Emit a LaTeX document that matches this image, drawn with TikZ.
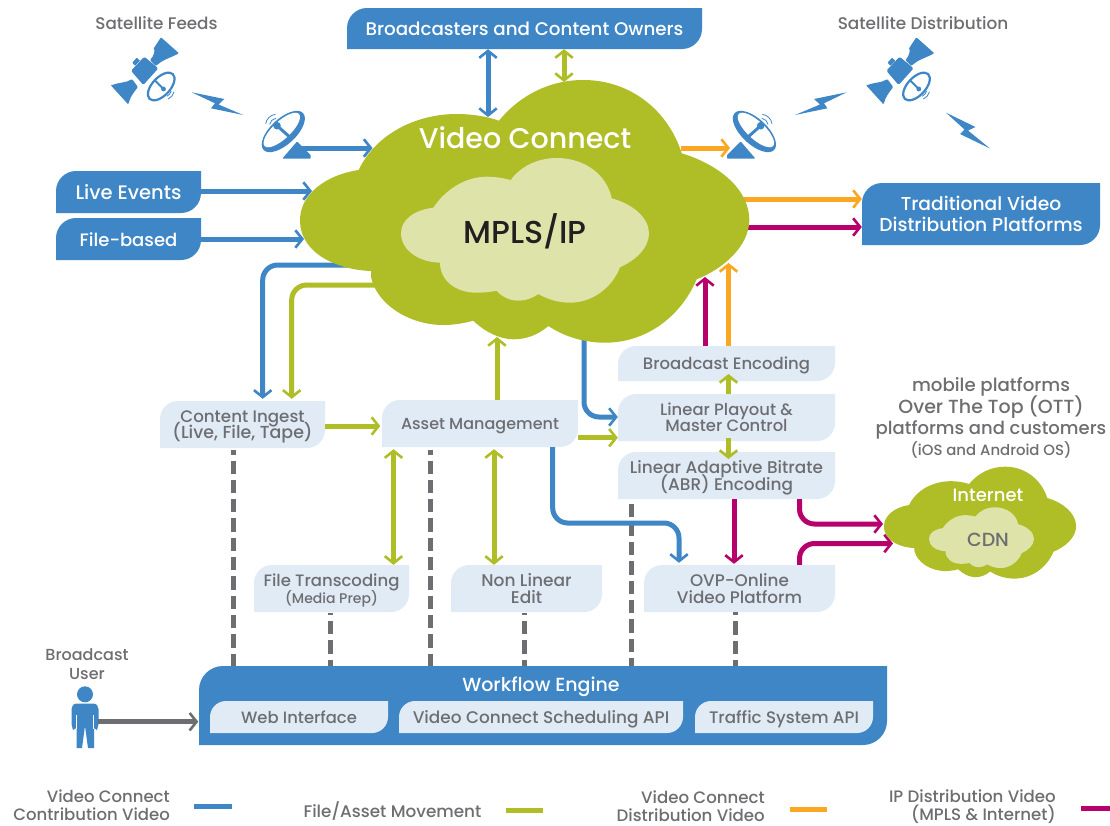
\documentclass[tikz,border=0pt]{standalone}
\usepackage{fontspec}
\setmainfont{Poppins Medium}
\usetikzlibrary{arrows.meta,calc}
\definecolor{cblue}{HTML}{3E86C6}
\definecolor{cgreen}{HTML}{AFBD26}
\definecolor{cpale}{HTML}{DDE3A9}
\definecolor{corange}{HTML}{FBA722}
\definecolor{cmag}{HTML}{B8006D}
\definecolor{cbox}{HTML}{E1EBF6}
\definecolor{cgray}{HTML}{6D6E71}
\definecolor{cink}{HTML}{231F20}
\newcommand{\fs}[1]{\pgfmathsetmacro\fsb{#1*1.0}\fontsize{#1}{\fsb}\selectfont}
% blocks of lines with a fixed pitch (first argument, in pt); \\ ends a line
\newcommand{\lines}[2]{\raisebox{-1pt}[\height][\depth]{\vbox{\baselineskip=#1pt\lineskiplimit=-100pt\lineskip=0pt\let\\\cr
  \halign{\hfil##\hfil\vrule width 0pt height #1pt depth .4\baselineskip\cr #2\cr}}}}
\newcommand{\rlines}[2]{\raisebox{-1pt}[\height][\depth]{\vbox{\baselineskip=#1pt\lineskiplimit=-100pt\lineskip=0pt\let\\\cr
  \halign{\hfil##\vrule width 0pt height .7\baselineskip depth .1\baselineskip\cr #2\cr}}}}
\tikzset{
  barb/.tip={Straight Barb[length=7pt,width=17.5pt,line width=2.6pt]},
  conn/.style={line width=5pt,rounded corners=15pt},
  bluec/.style={conn,cblue},
  greenc/.style={conn,cgreen},
  orangec/.style={conn,corange},
  magc/.style={conn,cmag},
  grayc/.style={conn,cgray},
  dashc/.style={line width=5pt,cgray,dash pattern=on 13.3pt off 6pt},
  legendc/.style={line width=5pt},
  btext/.style={text=cgray,inner sep=0pt},
  wtext/.style={text=white,inner sep=0pt},
  label/.style={text=cgray,inner sep=0pt},
  icon/.style={fill=cblue,draw=none},
}
% leaf box: name, x1, y1, x2, y2, radius, fill, node options, text
\newcommand{\leaf}[9]{%
  \fill[#7] (#2,#5) -- (#2,#3+#6) .. controls (#2,#3+.45*#6) and (#2+.45*#6,#3) .. (#2+#6,#3)
    -- (#4,#3) -- (#4,#5-#6) .. controls (#4,#5-.45*#6) and (#4-.45*#6,#5) .. (#4-#6,#5) -- cycle;
  \node[#8,minimum width={(#4-#2)*1pt},minimum height={(#5-#3)*1pt}] (#1) at ({(#2+#4)/2},{(#3+#5)/2}) {#9};%
}
\newcommand{\bigcloud}{
  (358.7,170) .. controls (375,135) and (415,114) .. (456.7,114)
  .. controls (472,114) and (487,116.5) .. (499,120.7)
  .. controls (520,95) and (550,80) .. (583.3,80)
  .. controls (630,80) and (668,110) .. (681.7,153.3)
  .. controls (720,165) and (749.3,190) .. (749.3,220)
  .. controls (749.3,245) and (725,268) .. (696.7,279.3)
  .. controls (680,318) and (645,342.7) .. (605,342.7)
  .. controls (585,342.7) and (565,337) .. (548.3,326)
  .. controls (538,335) and (526,339.3) .. (513.3,339.3)
  .. controls (500,339.3) and (485,332) .. (473.3,320.7)
  .. controls (463,323.5) and (453,325) .. (443.3,325)
  .. controls (410,325) and (377,305) .. (371,277)
  -- (371,271)
  .. controls (340,270) and (300,255) .. (300,220)
  .. controls (300,195) and (325,175) .. (358.7,170) -- cycle}
\newcommand{\smallcloud}{
  (433.3,207.7) .. controls (445,190) and (465,176.7) .. (486.7,176.7)
  .. controls (495,176.7) and (503,178) .. (510.7,180)
  .. controls (520,167) and (537,158) .. (556.7,158)
  .. controls (585,158) and (607,175) .. (611.7,198.3)
  .. controls (633,204) and (649,218) .. (649,233.3)
  .. controls (649,248) and (636,260) .. (620,267.3)
  .. controls (612,288) and (592,302.7) .. (570,302.7)
  .. controls (558,302.7) and (547,299) .. (538.3,294)
  .. controls (533,298) and (526,300.7) .. (518.3,300.7)
  .. controls (509,300.7) and (501,296) .. (496.7,290.7)
  .. controls (490,292) and (483,292.7) .. (476.7,292.7)
  .. controls (455,292.7) and (440,280) .. (440,262.7)
  .. controls (417,262) and (401,249) .. (401,233.3)
  .. controls (401,219) and (415,210) .. (433.3,207.7) -- cycle}
% satellite icon drawn at the left position
\newcommand{\satellite}{
  \fill[icon,rounded corners=1pt] (161,37.3) -- (179,53.3) .. controls (170,58) and (162,60) .. (156,66) -- (150,60) .. controls (154,56) and (155,50) .. (153.3,49) -- cycle;
  \fill[icon,rounded corners=1pt] (111,85.5) -- (128.3,104.5) .. controls (130,97) and (134,92) .. (138,87) -- (132,79) .. controls (126,83) and (120,82) .. (111,85.5) -- cycle;
  \fill[icon,rounded corners=1.5pt] (144.3,56.7) -- (158.3,68.3) -- (143.3,85) -- (131,70.7) -- cycle;
  \fill[icon,rounded corners=.5pt] (132.3,62.7) -- (136.7,57.7) -- (140,60.7) -- (135,65.7) -- cycle;
  \draw[cblue,line width=2.2pt,fill=white,rotate around={47:(161.2,86.5)}] (161.2,86.5) ellipse [x radius=17,y radius=9];
  \draw[cblue,line width=2pt] (155,80.5) -- (163.5,89);
  \fill[cblue] (163.5,89) circle [radius=2.4];
  \draw[cblue,line width=.8pt] ($(163.5,89)+(15:8)$) arc [start angle=15,end angle=65,radius=8];
  \draw[cblue,line width=.8pt] ($(163.5,89)+(15:11)$) arc [start angle=15,end angle=65,radius=11];
}
\newcommand{\groundDish}{
  \fill[icon,rounded corners=.8pt] (282.3,158.6) -- (297,141.5) -- (310.7,155) -- (310.7,158.6) -- cycle;
  \fill[cblue,rotate around={43:(283.3,131.5)}] (283.3,131.5) ellipse [x radius=27,y radius=12.8];
  \fill[white,rotate around={43:(281.8,130)}] (281.8,130) ellipse [x radius=23.5,y radius=8.8];
  \draw[cblue,line width=3pt] (277,125.7) -- (292,139);
  \fill[cblue] (277,125.7) circle [radius=3.8];
  \draw[cblue,line width=.8pt] ($(277,125.7)+(190:7.5)$) arc [start angle=190,end angle=262,radius=7.5];
  \draw[cblue,line width=.8pt] ($(277,125.7)+(190:11.5)$) arc [start angle=190,end angle=262,radius=11.5];
}
\begin{document}
\begin{tikzpicture}[x=1pt,y=-1pt]
\useasboundingbox (0,0) rectangle (1110,825);
\fill[white] (0,0) rectangle (1110,825);

% boxes
\leaf{owners}{347}{8}{702}{49}{20}{cblue}{wtext,font=\fs{18.3}}{\lines{21}{Broadcasters and Content Owners}}
\leaf{live}{56}{171}{201}{213}{20}{cblue}{wtext,font=\fs{19.5}}{\lines{21}{Live Events}}
\leaf{file}{56}{218}{201}{260}{20}{cblue}{wtext,font=\fs{18}}{\lines{21}{File-based}}
\leaf{trad}{862}{183}{1100}{245}{20}{cblue}{wtext,font=\fs{18.7}}{\lines{21}{Traditional Video\\Distribution Platforms}}
\leaf{ingest}{160}{401}{325}{448}{18}{cbox}{btext,font=\fs{16.7}}{\lines{16.5}{Content Ingest\\{\fs{17.4}(Live, File, Tape)}}}
\leaf{asset}{382}{400}{578}{447}{18}{cbox}{btext,font=\fs{16}}{\lines{16.5}{Asset Management}}
\leaf{bcenc}{618}{346}{835}{381}{18}{cbox}{btext,font=\fs{16.5}}{\lines{16.5}{Broadcast Encoding}}
\leaf{playout}{618}{394}{835}{441}{18}{cbox}{btext,font=\fs{16.4}}{\lines{16.5}{Linear Playout \&\\Master Control}}
\leaf{abr}{618}{452}{835}{499}{18}{cbox}{btext,font=\fs{16.9}}{\lines{17}{Linear Adaptive Bitrate\\(ABR) Encoding}}
\leaf{ovp}{644}{565}{835}{612}{18}{cbox}{btext,font=\fs{16.8}}{\lines{17}{OVP-Online\\Video Platform}}
\leaf{transc}{254}{565}{409}{612}{18}{cbox}{btext,font=\fs{16.5}}{\lines{17}{File Transcoding\\{\fs{14}(Media Prep)}}}
\leaf{nle}{451}{565}{602}{612}{18}{cbox}{btext,font=\fs{17}}{\lines{17}{Non Linear\\Edit}}
\leaf{engine}{199}{666}{887}{745}{24}{cblue}{wtext}{}

% cloud port coordinates
\coordinate (vcA) at (488,117);
\coordinate (vcB) at (564,82);
\coordinate (vcC) at (372.5,148);
\coordinate (vcD) at (312,191);
\coordinate (vcE) at (304,239);
\coordinate (vcF) at (352,265);
\coordinate (vcG) at (380,285);
\coordinate (vcH) at (497,337);
\coordinate (vcI) at (584,335);
\coordinate (vcJ) at (705,277);
\coordinate (vcK) at (728.5,263);
\coordinate (vcL) at (681,148);
\coordinate (vcM) at (740,199);
\coordinate (vcN) at (740,227);
\coordinate (inetA) at (883,524);
\coordinate (inetB) at (893,543.5);
\coordinate (dishL) at (300,148);
\coordinate (dishR) at (730,148);

% dashed links
\draw[dashc,dash phase=9pt] ($(233.3,0 |- ingest.south)+(0,2)$) -- (233.3,0 |- engine.north);
\draw[dashc,dash phase=9pt] ($(430,0 |- asset.south)+(0,3)$) -- (430,0 |- engine.north);
\draw[dashc,dash phase=11.3pt] ($(330,0 |- transc.south)+(0,.7)$) -- (330,0 |- engine.north);
\draw[dashc,dash phase=11.3pt] ($(524,0 |- nle.south)+(0,.7)$) -- (524,0 |- engine.north);
\draw[dashc] ($(631,0 |- abr.south)+(0,4.3)$) -- (631,0 |- engine.north);
\draw[dashc,dash phase=10.3pt] (735,0 |- ovp.south) -- (735,0 |- engine.north);

% connectors
\draw[bluec,barb-barb] (488,0 |- owners.south) -- (vcA);
\draw[greenc,barb-barb] (564,0 |- owners.south) -- (vcB);
\draw[bluec,-barb] (dishL) -- (vcC);
\draw[bluec,-barb] (live.east |- vcD) -- (vcD);
\draw[bluec,-barb] (file.east |- vcE) -- (vcE);
\draw[bluec,-barb] (vcF) -| ($(262.7,0 |- ingest.north)+(0,-2)$);
\draw[greenc,-barb] (vcG) -| ($(291.7,0 |- ingest.north)+(0,-2)$);
\draw[greenc,-barb] (ingest.east |- 0,426) -- ($(asset.west |- 0,426)+(-1.5,0)$);
\draw[greenc,-barb] (497,0 |- asset.north) -- (vcH);
\draw[bluec,-barb] (vcI) |- (playout.west |- 0,417);
\draw[greenc,-barb] (asset.east |- 0,437.7) -- (playout.west |- 0,437.7);
\draw[bluec,-barb] (552.7,0 |- asset.south) |- (640,523) -| ($(679,0 |- ovp.north)+(0,-2)$);
\draw[greenc,-barb] (728.5,0 |- playout.north) -- (728.5,374);
\draw[greenc,-barb] (728.5,438) -- (728.5,459);
\draw[magc,-barb] (705,0 |- bcenc.north) -- (vcJ);
\draw[orangec,-barb] (728.5,0 |- bcenc.north) -- (vcK);
\draw[magc,-barb] (734,0 |- abr.south) -- ($(734,0 |- ovp.north)+(0,-1)$);
\draw[magc,-barb] (799.5,0 |- abr.south) |- (inetA);
\draw[magc,-barb] (799.5,0 |- ovp.north) |- (inetB);
\draw[orangec,-barb] (vcM) -- (trad.west |- vcM);
\draw[magc,-barb] (vcN) -- (trad.west |- vcN);
\draw[orangec,-barb] (vcL) -- (dishR);
\draw[greenc,barb-barb] (393.5,0 |- transc.north) -- ($(393.5,0 |- asset.south)+(0,2)$);
\draw[greenc,barb-barb] (494,0 |- nle.north) -- ($(494,0 |- asset.south)+(0,2)$);

% clouds
\fill[cgreen] \bigcloud;
\fill[cpale] \smallcloud;
\begin{scope}[shift={(755.7,432.6)},xscale=.4276,yscale=.426]
  \fill[cgreen] \bigcloud;
\end{scope}
\begin{scope}[shift={(759.2,440.9)},xscale=.4234,yscale=.42]
  \fill[cpale] \smallcloud;
\end{scope}
\node[wtext,font=\fs{28.5}] (vc) at (525,138) {\lines{30}{Video Connect}};
\node[inner sep=0pt,text=cink,font=\fs{31.7}] (mpls) at (525,233) {\lines{32}{MPLS/IP}};
\node[wtext,font=\fs{18}] (inet) at (988,495) {\lines{18}{Internet}};
\node[btext,font=\fs{19}] (cdn) at (988,540) {\lines{18}{CDN}};

% engine interior
\node[wtext,font=\fs{19}] (wfe) at (541,685) {\lines{18}{Workflow Engine}};
\leaf{web}{210}{701}{388}{733}{16}{cbox}{btext,font=\fs{16.4}}{\lines{17}{Web Interface}}
\leaf{sched}{399}{701}{683}{733}{16}{cbox}{btext,font=\fs{16.9}}{\lines{17}{Video Connect Scheduling API}}
\leaf{traffic}{695}{701}{873}{733}{16}{cbox}{btext,font=\fs{16.7}}{\lines{17}{Traffic System API}}

% icons
\satellite
\begin{scope}[shift={(755.3,0)}]\satellite\end{scope}
\groundDish
\begin{scope}[shift={(1037.7,0)},xscale=-1]\groundDish\end{scope}
\fill[icon] (191.7,92.3) -- (224.3,99) -- (218.5,104.5) -- (243.3,115) -- (211,108.3) -- (215,103.3) -- cycle;
\fill[icon] (846.7,92.3) -- (814,99) -- (820,104.5) -- (795,115) -- (827.4,108.3) -- (824,103.3) -- cycle;
\fill[icon] (946,112.7) -- (975.5,127) -- (968,130.5) -- (990,148.5) -- (960,134) -- (964.5,129.5) -- cycle;

% person
\fill[cblue] (85,694.3) circle [radius=8];
\fill[cblue] (77,703.5) -- (93,703.5) .. controls (96.5,703.5) and (98.5,706) .. (98.5,709) -- (98.5,724) -- (97,730) -- (94,728) -- (94,748) -- (88,748) -- (85,726) -- (82,748) -- (76.5,748) -- (76.5,728) -- (73,730) -- (71.5,724) -- (71.5,709) .. controls (71.5,706) and (73.5,703.5) .. (77,703.5) -- cycle;
\draw[white,line width=.7pt] (76.8,715) -- (76.8,729);
\draw[white,line width=.7pt] (93.4,715) -- (93.4,729);
\coordinate (user) at (98,721.7);
\draw[grayc,-barb] (user) -- ($(engine.west |- user)+(-.5,0)$);

% labels
\node[label,font=\fs{16.8}] (satf) at (156.5,23) {\lines{17}{Satellite Feeds}};
\node[label,font=\fs{16.9}] (satd) at (923,23) {\lines{17}{Satellite Distribution}};
\node[label,font=\fs{18.2}] (mob1) at (991,385) {\lines{18}{mobile platforms}};
\node[label,font=\fs{19}] (mob2) at (991,407) {\lines{18}{Over The Top (OTT)}};
\node[label,font=\fs{18}] (mob3) at (991,428) {\lines{18}{platforms and customers}};
\node[label,font=\fs{14.9}] (mob4) at (991,450) {\lines{14}{(iOS and Android OS)}};
\node[label,font=\fs{16}] (buser) at (87,663.5) {\lines{19}{Broadcast\\User}};

% legend
\node[label,font=\fs{16.5},anchor=east] (lg1) at (170,805) {\rlines{18}{Video Connect\\Contribution Video}};
\coordinate (l1a) at (194,806); \coordinate (l1b) at (232,806);
\draw[legendc,cblue] (l1a) -- (l1b);
\node[label,font=\fs{16.8}] (lg2) at (392.5,811) {\lines{18}{File/Asset Movement}};
\coordinate (l2a) at (506,810); \coordinate (l2b) at (543,810);
\draw[legendc,cgreen] (l2a) -- (l2b);
\node[label,font=\fs{16.6},anchor=east] (lg3) at (765,806) {\rlines{18}{Video Connect\\Distribution Video}};
\coordinate (l3a) at (790,809); \coordinate (l3b) at (827,809);
\draw[legendc,corange] (l3a) -- (l3b);
\node[label,font=\fs{16.6},anchor=east] (lg4) at (1056,806) {\rlines{18}{IP Distribution Video\\(MPLS \& Internet)}};
\coordinate (l4a) at (1081,808); \coordinate (l4b) at (1110,808);
\draw[legendc,cmag] (l4a) -- (l4b);
\end{tikzpicture}
\end{document}
